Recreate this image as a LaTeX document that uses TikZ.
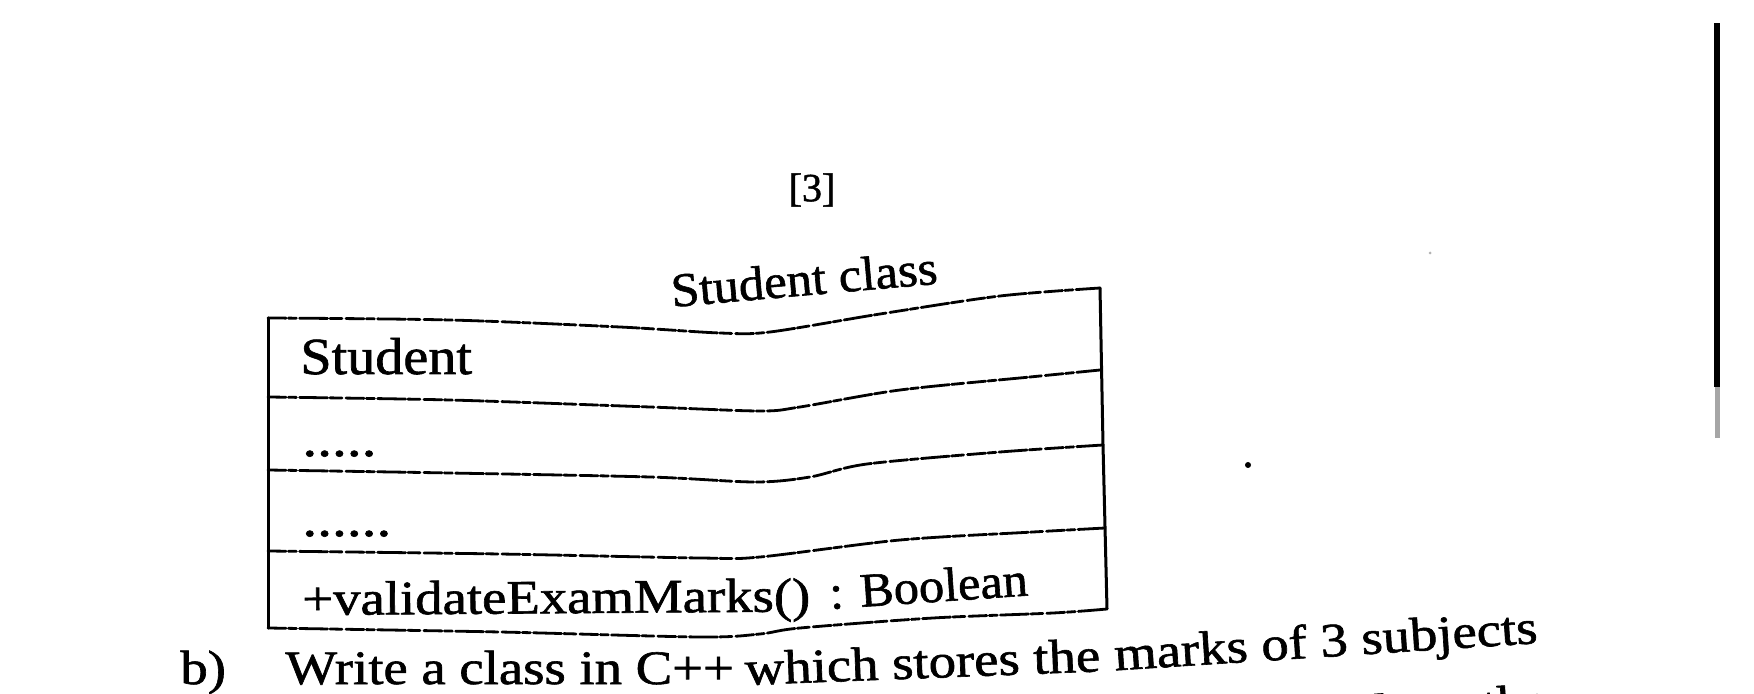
\documentclass[tikz,border=0pt]{standalone}
\usepackage{fontspec}
\setmainfont{Liberation Serif}[FakeBold=1.2]
\newcommand\wid[1]{\scalebox{1.14}[1]{#1}}
\begin{document}
\begin{tikzpicture}[x=0.5pt,y=-0.5pt,
  txt/.style={inner sep=0pt, anchor=base west, font=\fontsize{24}{28}\selectfont},
  rulebar/.style={line width=1.4pt, line cap=round, dash pattern=on 9pt off 1.2pt on 4pt off 1.6pt on 14pt off 1.2pt on 6pt off 2pt},
  sideline/.style={line width=1.5pt, line cap=round}]
\useasboundingbox[fill=white] (0,0) rectangle (1754,694);

% page number
\node[inner sep=0pt, font=\fontsize{20}{24}\selectfont] (pg) at (812,190) {[3]};

% title
\node[txt, rotate=5] (title) at (672,307) {\scalebox{1.06}[1]{Student class}};

% box rules
\draw[rulebar] plot[smooth, tension=0.5] coordinates {(268,318) (450,320) (620,327) (720,333) (770,332) (880,314) (1000,296) (1100,288)};
\draw[rulebar] plot[smooth, tension=0.5] coordinates {(268,397) (450,400) (650,407) (760,411) (800,407) (900,390) (1030,377) (1100,370)};
\draw[rulebar] plot[smooth, tension=0.5] coordinates {(268,470) (450,473) (650,477) (755,482) (810,477) (867,464) (1000,452) (1103,445)};
\draw[rulebar] plot[smooth, tension=0.5] coordinates {(268,551) (500,554) (700,558) (760,557) (900,540) (1033,532) (1105,528)};
\draw[rulebar] plot[smooth, tension=0.5] coordinates {(268,628) (500,632) (700,637) (760,634) (800,628) (933,618) (1053,613) (1107,609)};
\draw[sideline] (268,318) -- (268,628);
\draw[sideline] (1100,288) -- (1103,445) -- (1107,609);

% compartment texts
\node[txt, font=\fontsize{26}{30}\selectfont] (name) at (300,374) {\scalebox{1.08}[1]{Student}};
\node[txt, font=\fontsize{26}{30}\selectfont] (attr) at (302,456) {\wid{.....}};
\node[txt, font=\fontsize{26}{30}\selectfont] (oper) at (302,536) {\wid{......}};
\node[txt, rotate=0.4] (meth) at (302,615) {\wid{+validateExamMarks()}};
\node[txt, rotate=3.9] (ret) at (830,609) {\scalebox{1.05}[1]{: Boolean}};

% question text
\node[txt] (qb) at (180,684) {\wid{b)}};
\node[txt] (q1) at (285,684) {\wid{Write a class in C++}};
\node[txt, rotate=2.2] (q2) at (745,685) {\wid{which stores the}};
\node[txt, rotate=3.7] (q3) at (q2.base east) {\wid{\hspace{0.25em}marks of 3 subjects}};
\node[inner sep=0pt, anchor=base east, rotate=3.7, font=\fontsize{24}{28}\selectfont] (q4) at (1550,716) {\wid{and get the}};

% scan marks
\fill (1714,23) rectangle (1720,387);
\fill[black!35] (1715,387) rectangle (1720,438);
\fill (1248,465) circle (3);
\fill[black!30] (1430,253) circle (1.5);
\end{tikzpicture}
\end{document}
